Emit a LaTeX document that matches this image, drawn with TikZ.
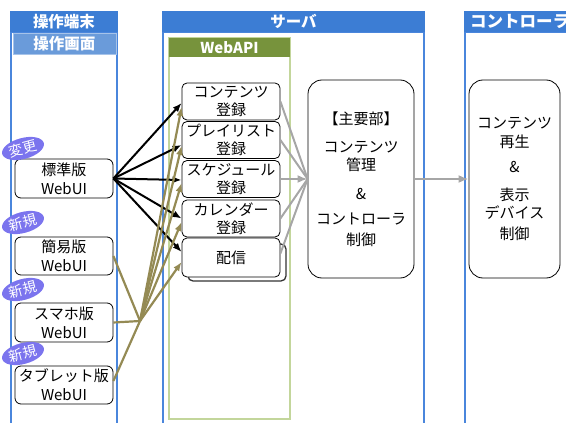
\documentclass[tikz,border=0pt]{standalone}
\usepackage{fontspec}
\setmainfont{Noto Sans CJK JP}
\usetikzlibrary{arrows.meta,shapes.geometric}
\definecolor{hdrblue}{HTML}{3C7DD4}
\definecolor{laneblue}{HTML}{4A86DC}
\definecolor{subblue}{HTML}{6A9BDA}
\definecolor{apiolive}{HTML}{77933C}
\definecolor{lightgreen}{HTML}{C3D69B}
\definecolor{khaki}{HTML}{948A54}
\definecolor{arrgray}{HTML}{A6A6A6}
\definecolor{badgeblue}{HTML}{7B74EE}
\begin{document}
\begin{tikzpicture}[x=1pt,y=-1pt,
  lane/.style={draw=laneblue,line width=1.4pt},
  hdrtext/.style={text=white,font=\fontsize{15.5}{18}\selectfont\bfseries,inner sep=0pt},
  apibox/.style={draw,fill=white,rounded corners=5pt,minimum width=98pt,minimum height=37pt,
    align=center,font=\fontsize{15}{18}\selectfont,inner sep=0pt,line width=0.8pt},
  uibox/.style={draw,fill=white,rounded corners=6pt,minimum width=98pt,minimum height=39pt,
    align=center,font=\fontsize{15}{19}\selectfont,inner sep=0pt,line width=0.8pt},
  bigbox/.style={draw,fill=white,rounded corners=14pt,minimum height=198pt,
    align=center,font=\fontsize{15}{18}\selectfont,inner sep=0pt,line width=0.8pt},
  badge/.style={ellipse,fill=badgeblue,text=white,font=\fontsize{14}{15}\selectfont,
    inner sep=0pt,minimum width=43pt,minimum height=21pt,rotate=15},
  blk/.style={line width=2pt,-{Latex[length=9pt,width=7pt]}},
  olv/.style={draw=khaki,line width=2.2pt},
  olvarr/.style={olv,-{Latex[length=9pt,width=7pt]}},
  gry/.style={draw=arrgray,line width=2pt},
]
\useasboundingbox (0,0) rectangle (566,423);
% lanes
\draw[lane] (11,32) rectangle (117,430);
\fill[hdrblue] (10,11) rectangle (118,32);
\node[hdrtext] (h1) at (64,21.5) {操作端末};
\filldraw[fill=subblue,draw=subblue!60!white,line width=0.6pt] (13,33.5) rectangle (116,54);
\node[hdrtext] (h1b) at (64.5,43.5) {操作画面};

\draw[lane] (163,32) rectangle (424,430);
\fill[hdrblue] (162,11) rectangle (425,32);
\node[hdrtext] (h2) at (293.5,21.5) {サーバ};

\draw[lane] (465,32) rectangle (600,430);
\fill[hdrblue] (464,11) rectangle (600,32);
\node[hdrtext,anchor=west,font=\fontsize{16.5}{18}\selectfont\bfseries] (h3) at (470,21.5) {コントローラ};

% WebAPI
\draw[draw=lightgreen,line width=2pt] (169,38) rectangle (290,419);
\fill[apiolive] (169,38) rectangle (290,57);
\node[hdrtext,font=\fontsize{15}{18}\selectfont\bfseries] (wa) at (229.5,47.5) {WebAPI};

% API boxes
\node[apibox] (c1) at (231,101.5) {コンテンツ\\登録};
\node[apibox] (c2) at (231,140) {プレイリスト\\登録};
\node[apibox] (c3) at (231,179) {スケジュール\\登録};
\node[apibox] (c4) at (231,218.5) {カレンダー\\登録};
\node[apibox,draw=black!80,line width=1.3pt] (c5b) at (237,262.5) {};
\node[apibox,minimum height=39pt] (c5) at (231,257.5) {配信};

% WebUI boxes
\node[uibox] (std) at (64,178.5) {標準版\\WebUI};
\node[uibox,minimum height=38pt] (simple) at (64,256) {簡易版\\WebUI};
\node[uibox] (sp) at (64,322.5) {スマホ版\\WebUI};
\node[uibox,minimum height=38pt] (tab) at (64,385) {タブレット版\\WebUI};

% main boxes
\node[bigbox,minimum width=106pt] (main) at (361,179)
  {【主要部】\\[10pt]コンテンツ\\管理\\[11pt]\&\\[7pt]コントローラ\\[3pt]制御};
\node[bigbox,minimum width=91pt] (ctrl) at (514.5,179)
  {コンテンツ\\[1pt]再生\\[7pt]\&\\[10pt]表示\\デバイス\\[3pt]制御};

% black arrows
\draw[blk] (std.east) -- ([yshift=-1.5pt]c1.west);
\draw[blk] (std.east) -- ([yshift=-5pt]c2.west);
\draw[blk] (std.east) -- ([yshift=-1pt]c3.west);
\draw[blk] (std.east) -- (c4.west);
\draw[blk] (std.east) -- ([yshift=5.5pt]c5.west);

% olive lines
\coordinate (J) at (140,321);
\draw[olv] (simple.east) -- (J);
\draw[olv] (sp.east) -- (J);
\draw[olv] ([yshift=4pt]tab.east) -- (J);
\draw[olvarr] (J) -- ([yshift=-5.5pt]c1.west);
\draw[olvarr] (J) -- ([yshift=-6pt]c2.west);
\draw[olvarr] (J) -- ([yshift=-4pt]c3.west);
\draw[olvarr] (J) -- ([yshift=-3.5pt]c4.west);
\draw[olvarr] (J) -- ([yshift=-4.5pt]c5.west);

% gray arrows
\draw[gry] (c1.east) -- (main.west);
\draw[gry] (c2.east) -- (main.west);
\draw[gry,-{Latex[length=10pt,width=8pt]}] (c3.east) -- (main.west);
\draw[gry] (c4.east) -- (main.west);
\draw[gry] ([yshift=4pt]c5.east) -- (main.west);
\draw[gry,-{Latex[length=10pt,width=8pt]}] (main.east) -- (ctrl.west);

% badges
\node[badge] (b1) at (23,148.5) {変更};
\node[badge] (b2) at (23,222.5) {新規};
\node[badge] (b3) at (23,289.5) {新規};
\node[badge] (b4) at (23,353.5) {新規};
\end{tikzpicture}
\end{document}
